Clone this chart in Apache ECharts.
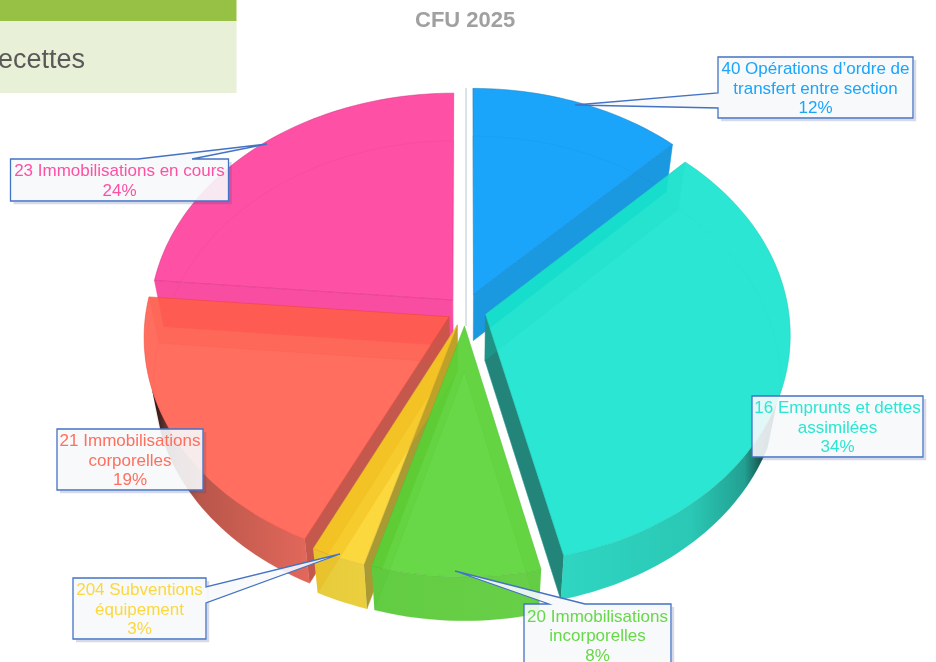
<!DOCTYPE html>
<html><head><meta charset="utf-8">
<style>html,body{margin:0;padding:0;background:#fff}#c{width:936px;height:662px;overflow:hidden}</style>
<script src="https://cdn.jsdelivr.net/npm/echarts@6/dist/echarts.min.js"></script>
</head><body><div id="c"></div>
<script>
// ---- data ----
const categories = ["40 Opérations d’ordre de\ntransfert entre section","16 Emprunts et dettes\nassimilées","20 Immobilisations\nincorporelles","204 Subventions\néquipement","21 Immobilisations\ncorporelles","23 Immobilisations en cours"];
const values = [12.4, 33.9, 8.2, 2.65, 19.25, 23.6];
const chartTitle = "CFU 2025";
const bannerText = "ecettes";

// ---- styles & layout ----
const topColors  = ["#1AA5FB","#2BE6D2","#68D848","#FBD83F","#FF6F5E","#FE50A4"];
const sideColors = ["#1A98E0","#23847A","#55C835","#A99A33","#C4584C","#F84DA0"];
const hiddenColors = ["#1478B8","#10D8C4","#48C020","#EDB010","#F84A3A","#E0308C"];
const hiddenAlpha = [0.15,0.3,0.2,0.55,0.25,0.1];
const edgeColors = ["#1478B8","#1FC8B6","#52BE38","#D8B030","#F04030","#D02C84"];
const explodes = [0.075,0.07,0.07,0.07,0.06,0.06];
const arcStops = [
  [[0,"#1A98E0"],[1,"#1A98E0"]],
  [[0,"#2FD6C2"],[0.6,"#2AC8B5"],[0.85,"#22A092"],[1,"#111111"]],
  [[0,"#62CC42"],[1,"#68D048"]],
  [[0,"#E6CB3C"],[1,"#EBCF3E"]],
  [[0,"#1A0F0E"],[0.1,"#6A3A33"],[0.3,"#B9564A"],[1,"#E2685B"]],
  [[0,"#F84DA0"],[1,"#F84DA0"]]
];
const drawOrder = [5,0,4,1,3,2];
const center = [465,310], sx = 303, sy = 226.4, persp = 0.0864;
const depth = 46, botX = 0.97, botY = 0.992, topAlpha = 0.92;
const callouts = [
  {box:[718,57,195,61], wedge:{side:"left",a:93,b:108,tip:[575,105]}},
  {box:[752,396,171,61]},
  {box:[524,604,147,62], wedge:{side:"top",a:549,b:585,tip:[455,571]}},
  {box:[73,578,133,61], wedge:{side:"right",a:587,b:603,tip:[340,554]}},
  {box:[57,429,146,61]},
  {box:[10.5,159,218,42], wedge:{side:"top",a:138,b:192,tip:[267,144]}}
];
const FONT = '"Liberation Sans", Arial, sans-serif';

const total = values.reduce((a,b)=>a+b,0);
let run = 0;
const cumul = values.map(v=>{const c=run; run+=v; return c;});
const rad = d=>d*Math.PI/180;
const project = (X,Y)=>{const den=1-persp*Y; return [center[0]+sx*X/den, center[1]+sy*Y/den];};
const toBottom = p=>[center[0]+(p[0]-center[0])*botX, center[1]+(p[1]-center[1])*botY+depth];
const solid = hex=>{
  const n=parseInt(hex.slice(1),16),f=c=>Math.max(0,Math.round((c-(1-topAlpha)*255)/topAlpha));
  return `rgb(${f(n>>16)},${f((n>>8)&255)},${f(n&255)})`;
};

function renderSlice(params, api){
  const i=api.value(0), a0=api.value(2)/total*360, a1=(api.value(2)+api.value(1))/total*360, mid=rad((a0+a1)/2);
  const ex=explodes[i]*Math.sin(mid), ey=-explodes[i]*Math.cos(mid);
  const pt=a=>project(ex+Math.sin(rad(a)), ey-Math.cos(rad(a)));
  const apex=project(ex,ey), apexB=toBottom(apex);
  const n=Math.max(6,Math.ceil((a1-a0)/1.5));
  const arc=[]; for(let k=0;k<=n;k++) arc.push(a0+(a1-a0)*k/n);
  const topArc=arc.map(pt), botArc=topArc.map(toBottom);
  const kids=[];
  const facing=a=>-Math.cos(rad(a))>0;
  const walls=[{a:a0,normal:a0-90},{a:a1,normal:a1+90}];
  walls.forEach(w=>{
    const p=pt(w.a);
    if(facing(w.normal)) kids.push({type:'polygon',shape:{points:[apex,p,toBottom(p),apexB]},style:{fill:sideColors[i],stroke:sideColors[i],lineWidth:0.5}});
  });
  const lo=Math.max(a0,112), hi=Math.min(a1,252);
  if(hi>lo){
    const m=Math.ceil((hi-lo)/1.5), up=[]; for(let k=0;k<=m;k++) up.push(pt(lo+(hi-lo)*k/m));
    kids.push({type:'polygon',shape:{points:up.concat(up.map(toBottom).reverse())},
      style:{fill:{type:'linear',x:0,y:0,x2:1,y2:0,colorStops:arcStops[i].map(s=>({offset:s[0],color:s[1]}))}}});
  }
  kids.push({type:'polygon',shape:{points:[apex].concat(topArc)},style:{fill:solid(topColors[i]),opacity:topAlpha}});
  walls.forEach(w=>{
    const p=pt(w.a);
    if(!facing(w.normal)) kids.push({type:'polygon',shape:{points:[apex,p,toBottom(p),apexB]},
      style:{fill:hiddenColors[i],opacity:hiddenAlpha[i]*0.6}});
  });
  kids.push({type:'polyline',shape:{points:[apexB].concat(botArc,[apexB])},style:{fill:'none',stroke:hiddenColors[i],lineWidth:0.6,opacity:0.22}});
  kids.push({type:'polyline',shape:{points:[apex].concat(topArc,[apex])},style:{fill:'none',stroke:edgeColors[i],lineWidth:0.7,opacity:0.7}});
  return {type:'group',children:kids};
}

function renderLabel(params, api){
  const i=api.value(0), c=callouts[i], [x,y,w,h]=c.box, W=c.wedge;
  let pts=[[x,y],[x+w,y],[x+w,y+h],[x,y+h]];
  if(W){
    if(W.side==='top') pts=[[x,y],[W.a,y],W.tip,[W.b,y],[x+w,y],[x+w,y+h],[x,y+h]];
    if(W.side==='left') pts=[[x,y],[x+w,y],[x+w,y+h],[x,y+h],[x,W.b],W.tip,[x,W.a]];
    if(W.side==='right') pts=[[x,y],[x+w,y],[x+w,W.a],W.tip,[x+w,W.b],[x+w,y+h],[x,y+h]];
  }
  const shadow=[[x+w+2,y+3],[x+w+2,y+h+2],[x+3,y+h+2]];
  return {type:'group',children:[
    {type:'polyline',shape:{points:shadow},style:{fill:'none',stroke:'rgba(50,70,130,0.2)',lineWidth:2.4}},
    {type:'polygon',shape:{points:pts},style:{fill:'rgba(246,248,251,0.9)',stroke:'#4472C4',lineWidth:1.3}},
    {type:'text',style:{x:x+w/2,y:y+h/2+1.5,align:'center',verticalAlign:'middle',lineHeight:19.5,
      text:categories[i]+"\n"+Math.round(api.value(1)/total*100)+"%",fill:topColors[i],font:'17px '+FONT}}
  ]};
}

const chart=echarts.init(document.getElementById('c'),null,{renderer:'canvas'});
chart.setOption({
  animation:false,
  backgroundColor:'#ffffff',
  title:{text:chartTitle,left:410,top:5,textStyle:{fontFamily:FONT,fontSize:22,fontWeight:'bold',color:'#A0A0A0'}},
  graphic:[
    {type:'rect',shape:{x:0,y:0,width:236.5,height:21},style:{fill:'#97C144'}},
    {type:'rect',shape:{x:0,y:21,width:236.5,height:72},style:{fill:'#E8F0D8'}},
    {type:'text',style:{x:-2,y:60.5,text:bannerText,fill:'#595959',font:'27px '+FONT,verticalAlign:'middle'}},
    {type:'line',shape:{x1:466,y1:88,x2:466,y2:326},style:{stroke:'#B4C6CE',lineWidth:1}}
  ],
  series:[
    {type:'custom',coordinateSystem:'none',silent:true,z:2,renderItem:renderSlice,
     data:drawOrder.map(i=>[i,values[i],cumul[i]])},
    {type:'custom',coordinateSystem:'none',silent:true,z:5,renderItem:renderLabel,
     data:values.map((v,i)=>[i,v])}
  ]
});
</script></body></html>
